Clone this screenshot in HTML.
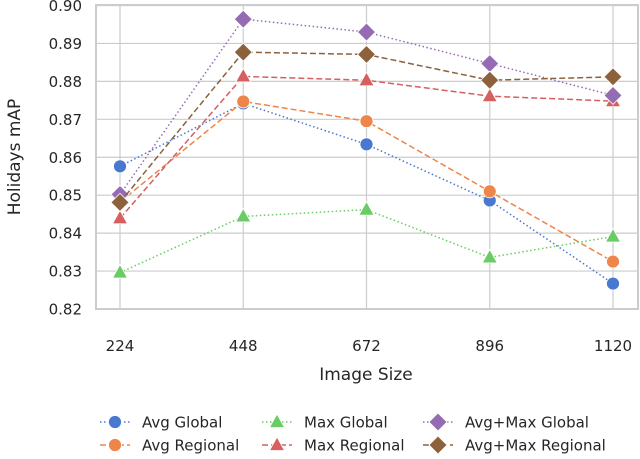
<!DOCTYPE html>
<html><head><meta charset="utf-8"><style>
body{margin:0;background:#fff;}
svg text{font-family:"DejaVu Sans","Liberation Sans",sans-serif;fill:#262626;}
</style></head><body>
<svg id="chart" width="640" height="454" viewBox="0 0 640 454" xmlns="http://www.w3.org/2000/svg">
<g id="grid"></g><g id="axes"></g><g id="series"></g><g id="legend"></g>
</svg>
<script>
const categories=["224","448","672","896","1120"];
const yTicks=[0.82,0.83,0.84,0.85,0.86,0.87,0.88,0.89,0.90];
const avgGlobal=[0.8576,0.8742,0.8634,0.8486,0.8267];
const avgRegional=[0.8482,0.8747,0.8695,0.8510,0.8325];
const maxGlobal=[0.8296,0.8444,0.8462,0.8336,0.8391];
const maxRegional=[0.8439,0.8813,0.8803,0.8761,0.8748];
const avgMaxGlobal=[0.8502,0.8964,0.8930,0.8847,0.8763];
const avgMaxRegional=[0.8481,0.8877,0.8871,0.8803,0.8812];
const seriesNames=["Avg Global","Avg Regional","Max Global","Max Regional","Avg+Max Global","Avg+Max Regional"];
const NS="http://www.w3.org/2000/svg";
const L=96,R=638,T=5,B=309;
function x(i){return 120+i*(613-120)/(categories.length-1);}
function y(v){return B-(v-0.82)/(0.90-0.82)*(B-5.5);}
function mk(tag,attrs,parent){const e=document.createElementNS(NS,tag);for(const k in attrs)e.setAttribute(k,attrs[k]);parent.appendChild(e);return e;}
const grid=document.getElementById('grid'),axes=document.getElementById('axes'),ser=document.getElementById('series'),leg=document.getElementById('legend');
mk('rect',{x:L,y:T,width:R-L,height:B-T,fill:'#fff',stroke:'#cccccc','stroke-width':2},grid);
yTicks.forEach(v=>{
 const l=mk('line',{x1:L,x2:R,y1:y(v),y2:y(v),stroke:'#cccccc','stroke-width':1.2},grid);
 
 
 const t=mk('text',{x:L-14,y:y(v)+5.5,'text-anchor':'end','font-size':15},axes);t.textContent=v.toFixed(2);
 
 
});
categories.forEach((c,i)=>{
 const l=mk('line',{x1:x(i),x2:x(i),y1:T,y2:B,stroke:'#cccccc','stroke-width':1.2},grid);
 
 
 const t=mk('text',{x:x(i),y:351,'text-anchor':'middle','font-size':15},axes);t.textContent=c;
 
 
});
let t=mk('text',{x:366,y:380,'text-anchor':'middle','font-size':17},axes);t.textContent='Image Size';


t=mk('text',{x:0,y:0,transform:'translate(20,157) rotate(-90)','text-anchor':'middle','font-size':17},axes);t.textContent='Holidays mAP';


const data=[avgGlobal,avgRegional,maxGlobal,maxRegional,avgMaxGlobal,avgMaxRegional];
const colors=['#4878d0','#ee854a','#6acc64','#d65f5f','#956cb4','#8c613c'];
const shapes=['circle','circle','tri','tri','dia','dia'];
const dashes=['1.5,2.5','6,3','1.5,2.5','6,3','1.5,2.5','6,3'];
function marker(shape,cx,cy,col,g,s){
 if(shape==='circle')return mk('circle',{cx:cx,cy:cy,r:6.5*s,fill:col,stroke:'#fff','stroke-width':0.8},g);
 if(shape==='tri')return mk('polygon',{points:`${cx},${cy-8*s} ${cx+7.5*s},${cy+5.5*s} ${cx-7.5*s},${cy+5.5*s}`,fill:col,stroke:'#fff','stroke-width':0.8},g);
 return mk('polygon',{points:`${cx},${cy-9*s} ${cx+9*s},${cy} ${cx},${cy+9*s} ${cx-9*s},${cy}`,fill:col,stroke:'#fff','stroke-width':0.8},g);
}
[0,1,2,3,4,5].forEach(k=>{
 const g=mk('g',{},ser);
 
 
 const pts=data[k].map((v,i)=>x(i)+','+y(v)).join(' ');
 mk('polyline',{points:pts,fill:'none',stroke:colors[k],'stroke-width':1.5,'stroke-dasharray':dashes[k]},g);
 data[k].forEach((v,i)=>{
  const m=marker(shapes[k],x(i),y(v),colors[k],g,1);
  
  
 });
});
const legPos=[[100,422],[100,445],[262,422],[262,445],[423,422],[423,445]];
seriesNames.forEach((n,k)=>{
 const g=mk('g',{},leg);
 
 
 const [lx,ly]=legPos[k];
 mk('line',{x1:lx,x2:lx+30,y1:ly,y2:ly,stroke:colors[k],'stroke-width':1.5,'stroke-dasharray':dashes[k]},g);
 marker(shapes[k],lx+15,ly,colors[k],g,1);
 const tt=mk('text',{x:lx+42,y:ly+5.5,'font-size':15},g);tt.textContent=n;
});
</script>
</body></html>
